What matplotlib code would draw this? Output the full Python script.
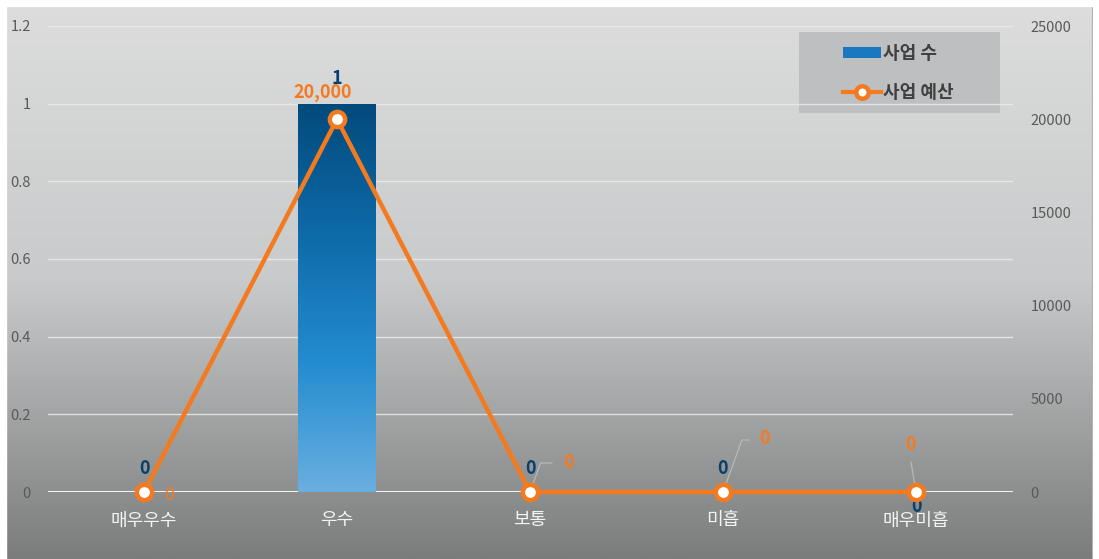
import numpy as np
import matplotlib.pyplot as plt
from matplotlib.colors import LinearSegmentedColormap
from matplotlib.patches import Patch, Rectangle
from matplotlib.lines import Line2D

plt.rcParams['font.family'] = ['Noto Sans CJK KR', 'DejaVu Sans']

categories = ['매우우수', '우수', '보통', '미흡', '매우미흡']
counts = [0, 1, 0, 0, 0]
budget = [0, 20000, 0, 0, 0]
count_labels = ['0', '1', '0', '0', '0']
budget_labels = ['0', '20,000', '0', '0', '0']

# label offsets in pixels (dx, dy), dy up
count_offsets = [(0, 24), (0, 25), (0, 24), (-1, 24), (0, -14)]
budget_offsets = [(25, -3), (-14, 27), (38, 29), (41, 53), (-6, 48)]
leaders = [None, None, (22, 29), (26, 52), (-5, 30)]

fig = plt.figure(figsize=(10.99, 5.59), dpi=100)

# background gradient over the chart area
bg = fig.add_axes([0, 0, 1, 1], zorder=-10)
grad = np.linspace(0, 1, 256).reshape(-1, 1)
bg_cmap = LinearSegmentedColormap.from_list('bg', ['#dcdddc', '#c9cacb', '#7b7d7d'])
bg.imshow(grad, cmap=bg_cmap, aspect='auto', extent=[0, 1, 0, 1], origin='upper')
bg.set_xlim(0, 1)
bg.set_ylim(0, 1)
bg.add_patch(Rectangle((6 / 1099, -0.01), 1087 / 1099, 1 - 6 / 559 + 0.01,
                       fill=False, edgecolor='#a0a0a0', linewidth=1.5))
bg.add_patch(Rectangle((0, 0), 6 / 1099, 1, color='white'))
bg.add_patch(Rectangle((1093 / 1099, 0), 6 / 1099, 1, color='white'))
bg.add_patch(Rectangle((0, 1 - 6 / 559), 1, 6 / 559, color='white'))
# legend box
bg.add_patch(Rectangle((799 / 1099, 1 - 113 / 559), 201 / 1099, 81 / 559,
                       facecolor='#bcbdbe', edgecolor='none', alpha=0.9))
bg.axis('off')

ax = fig.add_axes([47.5 / 1099, 67 / 559, 965 / 1099, 466 / 559])
ax.patch.set_alpha(0)
x = np.arange(len(categories))
ax.set_xlim(-0.5, len(categories) - 0.5)
ax.set_ylim(0, 1.2)
ax.set_yticks(np.arange(0, 1.21, 0.2))
ax.set_yticklabels(['0', '0.2', '0.4', '0.6', '0.8', '1', '1.2'])
ax.grid(axis='y', color='#eeeeee', linewidth=1, alpha=0.8)
ax.axhline(0, color='#f2f2f2', linewidth=1.5, zorder=2)
for s in ax.spines.values():
    s.set_visible(False)
ax.tick_params(axis='y', length=0, labelsize=10.5, labelcolor='#595959', pad=12)
ax.tick_params(axis='x', length=0, labelsize=13, labelcolor='#f4f4f4', pad=14)
ax.set_xticks(x)
ax.set_xticklabels(categories)

bar_cmap = LinearSegmentedColormap.from_list('bar', ['#6aafe0', '#238cd0', '#0e6aa8', '#034a7c'])
bars = ax.bar(x, counts, width=0.4, color='none', zorder=3)
for b in bars:
    h = b.get_height()
    if h <= 0:
        continue
    x0 = b.get_x()
    im = ax.imshow(grad[::-1], cmap=bar_cmap, aspect='auto',
                   extent=[x0, x0 + b.get_width(), 0, h], origin='upper', zorder=3)
    im.set_clip_path(b)
ax.set_xlim(-0.5, len(categories) - 0.5)
ax.set_ylim(0, 1.2)

ax2 = ax.twinx()
ax2.set_ylim(0, 25000)
ax2.set_yticks(np.arange(0, 25001, 5000))
ax2.set_yticklabels([str(v) for v in range(0, 25001, 5000)])
for s in ax2.spines.values():
    s.set_visible(False)
ax2.tick_params(axis='y', length=0, labelsize=10.5, labelcolor='#595959', pad=13)
ax2.plot(x, budget, color='#f47a20', linewidth=3.2, marker='o', markersize=11,
         markerfacecolor='white', markeredgecolor='#f47a20', markeredgewidth=3.2,
         zorder=5, clip_on=False)

px = 0.72
for i in range(len(categories)):
    dx, dy = count_offsets[i]
    ax.annotate(count_labels[i], (x[i], counts[i]), xytext=(dx * px, dy * px),
                textcoords='offset points', ha='center', va='center',
                fontsize=13, fontweight='bold', color='#073f6f', zorder=6)
    dx, dy = budget_offsets[i]
    ax2.annotate(budget_labels[i], (x[i], budget[i]), xytext=(dx * px, dy * px),
                 textcoords='offset points', ha='center', va='center',
                 fontsize=13, fontweight='bold' if i > 0 else 'normal',
                 color='#f47a20', zorder=6)
    if leaders[i] is not None:
        lx, ly = leaders[i]
        if lx > 0:
            ax2.annotate('', (x[i], budget[i]), xytext=(lx * px, ly * px),
                         textcoords='offset points',
                         arrowprops=dict(arrowstyle='-', color='#b8b8b8', lw=0.9,
                                         connectionstyle='angle,angleA=0,angleB=70,rad=0',
                                         shrinkA=0, shrinkB=2))
        else:
            ax2.annotate('', (x[i], budget[i]), xytext=(lx * px, ly * px),
                         textcoords='offset points',
                         arrowprops=dict(arrowstyle='-', color='#b8b8b8', lw=0.9,
                                         shrinkA=0, shrinkB=2))

handles = [Patch(facecolor='#1a78c0', edgecolor='none'),
           Line2D([0], [0], color='#f47a20', linewidth=3, marker='o', markersize=9,
                  markerfacecolor='white', markeredgecolor='#f47a20', markeredgewidth=3.2)]
leg = fig.legend(handles, ['사업 수', '사업 예산'], loc='upper left',
                 bbox_to_anchor=(843 / 1099, 1 - 44 / 559), frameon=False,
                 prop={'size': 13, 'weight': 'bold'}, handlelength=2.1,
                 handleheight=0.5, handletextpad=0.1, labelspacing=1.1,
                 borderpad=0, borderaxespad=0)
for t in leg.get_texts():
    t.set_color('#404040')

fig.savefig('out.png', dpi=100)
